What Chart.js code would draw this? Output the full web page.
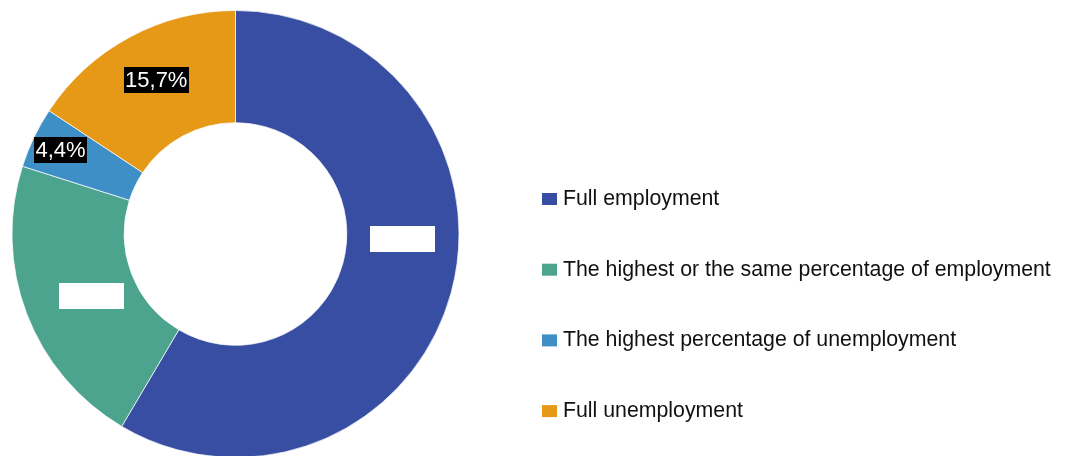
<!DOCTYPE html>
<html lang="en">
<head>
    <meta charset="UTF-8">
    <title>Employment status</title>
    <style>
        html, body { margin: 0; padding: 0; background: #fff; overflow: hidden; }
        .chart-box { position: relative; width: 1069px; height: 460px; }
    </style>
</head>
<body>
    <div class="chart-box">
        <canvas id="employmentChart"></canvas>
    </div>

    <script src="https://cdn.jsdelivr.net/npm/chart.js"></script>
    <script>
        // Datos del gráfico
        const categorias = [
            'Full employment',
            'The highest or the same percentage of employment',
            'The highest percentage of unemployment',
            'Full unemployment'
        ];
        const porcentajes = [58.5, 21.4, 4.4, 15.7];
        const colores = ['#384ea2', '#4ca48e', '#3f8fc7', '#e69917'];

        // Fondo de cada etiqueta de valor (las dos primeras quedan en blanco)
        const fondoEtiqueta = ['#ffffff', '#ffffff', '#000000', '#000000'];
        // Desplazamiento de cada etiqueta respecto al centro del sector
        const despEtiqueta = [[6, -39], [13, 2], [-24, -12], [0, -7]];

        const FUENTE = '"Liberation Sans", Arial, sans-serif';

        // Etiquetas de porcentaje sobre cada sector
        const etiquetasValor = {
            id: 'etiquetasValor',
            afterDatasetsDraw(chart) {
                const ctx = chart.ctx;
                const meta = chart.getDatasetMeta(0);
                ctx.save();
                ctx.font = '22px ' + FUENTE;
                ctx.textAlign = 'center';
                ctx.textBaseline = 'middle';
                meta.data.forEach((arc, i) => {
                    const p = arc.getProps(['x', 'y', 'startAngle', 'endAngle', 'innerRadius', 'outerRadius']);
                    const ang = (p.startAngle + p.endAngle) / 2;
                    const r = (p.innerRadius + p.outerRadius) / 2;
                    const x = p.x + Math.cos(ang) * r + despEtiqueta[i][0];
                    const y = p.y + Math.sin(ang) * r + despEtiqueta[i][1];
                    const texto = porcentajes[i].toFixed(1).replace('.', ',') + '%';
                    const w = ctx.measureText(texto).width + 3;
                    ctx.fillStyle = fondoEtiqueta[i];
                    ctx.fillRect(Math.round(x - w / 2), Math.round(y - 13), Math.round(w), 26);
                    ctx.fillStyle = '#ffffff';
                    ctx.fillText(texto, x, y + 1);
                });
                ctx.restore();
            }
        };

        // Leyenda a la derecha
        const leyenda = {
            id: 'leyenda',
            afterDraw(chart) {
                const ctx = chart.ctx;
                ctx.save();
                ctx.font = '21.3px ' + FUENTE;
                ctx.textBaseline = 'middle';
                categorias.forEach((cat, i) => {
                    const y = 199 + i * 70.7;
                    ctx.fillStyle = colores[i];
                    ctx.fillRect(542, y - 6, 15, 12);
                    ctx.fillStyle = '#111111';
                    ctx.fillText(cat, 563, y);
                });
                ctx.restore();
            }
        };

        const ctx = document.getElementById('employmentChart').getContext('2d');
        const employmentChart = new Chart(ctx, {
            type: 'doughnut',
            data: {
                labels: categorias,
                datasets: [{
                    data: porcentajes,
                    backgroundColor: colores,
                    borderColor: 'rgba(255,255,255,0.7)',
                    borderWidth: 1
                }]
            },
            options: {
                responsive: true,
                maintainAspectRatio: false,
                animation: false,
                cutout: '49.8%',
                layout: {
                    padding: { left: 11, top: 10, right: 609, bottom: 2 }
                },
                plugins: {
                    legend: { display: false },
                    tooltip: { enabled: false }
                }
            },
            plugins: [etiquetasValor, leyenda]
        });
    </script>
</body>
</html>
